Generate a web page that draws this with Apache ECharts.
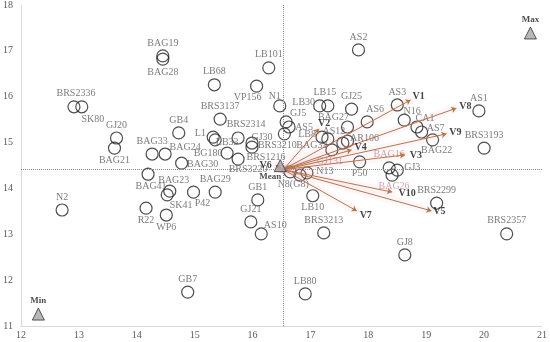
<!DOCTYPE html>
<html>
<head>
<meta charset="utf-8">
<script src="https://cdn.jsdelivr.net/npm/echarts@6/dist/echarts.min.js"></script>
<style>
html,body{margin:0;padding:0;background:#fff;}
#chart{width:550px;height:342px;}
</style>
</head>
<body>
<div id="chart"></div>
<script>
// ---------- data ----------
const xTicks = [12, 13, 14, 15, 16, 17, 18, 19, 20, 21];
const yTicks = [11, 12, 13, 14, 15, 16, 17, 18];

const names = ['N2','BRS2336','SK80','GJ20','BAG21','GB7','BAG19','BAG28','GB4','BAG33',
  'BAG24','BAG30','BAG41','BAG23','SK41','P42','BAG29','R22','WP6','GB1',
  'GJ21','AS10','LB80','BRS3213','LB10','LB101','LB68','VP156','N1','AS2',
  'LB30','LB15','GJ25','AS6','BAG27','GJ5','AS5','BRS3210','LB8','AS12',
  'GJ131','BAG32','AR106','P50','N8(G8)','','N13','BAG16','GJ3','BAG26',
  'AS3','N16','CA1','AS7','BAG22','AS1','BRS3193','BRS2299','BRS2357','GJ8',
  'BRS3137','BRS2314','L1','LB33','BG180','GJ30','BRS1216','BRS3220'];
const xs = [12.71,12.915,13.05,13.65,13.615,14.88,14.45,14.45,14.725,14.265,
  14.49,14.775,14.195,14.57,14.525,14.98,15.355,14.16,14.51,16.09,
  15.97,16.15,16.91,17.23,17.04,16.28,15.34,16.07,16.47,17.83,
  17.16,17.30,17.71,17.98,17.64,16.58,16.63,16.55,17.20,17.30,
  17.37,17.56,17.64,17.85,16.65,16.82,16.94,18.36,18.50,18.41,
  18.50,18.62,18.84,18.92,19.11,19.91,20.00,19.18,20.39,18.63,
  15.44,15.75,15.32,15.355,15.56,15.99,15.99,15.75];
const ys = [13.53,15.78,15.78,15.10,14.88,11.74,16.89,16.82,15.21,14.75,
  14.75,14.55,14.31,13.94,13.86,13.92,13.92,13.57,13.42,13.75,
  13.27,13.01,11.70,13.03,13.84,16.63,16.26,16.23,15.80,17.02,
  15.80,15.80,15.73,15.45,15.34,15.45,15.34,15.19,15.12,15.08,
  14.84,14.99,15.03,14.58,14.36,14.29,14.34,14.45,14.40,14.29,
  15.82,15.49,15.34,15.23,15.06,15.69,14.88,13.68,13.01,12.55,
  15.51,15.10,15.12,15.06,14.77,14.99,14.90,14.64];

const refNames = ['Max', 'Min', 'Mean'];
const refX = [20.80, 12.30, 16.53];
const refY = [17.39, 11.26, 14.41];

const vecNames = ['V1','V2','V3','V4','V5','V6','V7','V8','V9','V10'];
const vecX = [18.73, 17.15, 18.63, 17.71, 19.09, 16.40, 17.80, 19.52, 19.35, 18.41];
const vecY = [15.93, 15.30, 14.73, 14.84, 13.51, 14.51, 13.51, 15.75, 15.19, 13.92];

// ---------- layout (label placement, not data) ----------
const T = [0, -13], B = [0, 12];
const labelOff = {
  'BRS2336':[2,-13],'SK80':[11,13],'BAG21':B,'BAG28':[0,13],'BAG24':[20,-7],'BAG30':[21,1],
  'BAG41':[3,12],'BAG23':[4,-11],'SK41':[14,11],'P42':[9,11],'R22':B,'WP6':B,'AS10':[14,-8],
  'LB10':B,'VP156':[-9,11],'N1':[-5,-10],'LB30':[-16,-4],'LB15':[-3,-14],'AS6':[8,-13],
  'BAG27':[-14,-10],'GJ5':[12,-9],'AS5':[15,0],'BRS3210':[-7,12],'LB8':[-15,-3],'AS12':[6,-8],
  'GJ131':[-2,11],'BAG32':[-31,2],'AR106':[17,-3],'P50':B,'N8(G8)':[3,12],'N13':[18,-1],
  'GJ3':[15,-3],'BAG26':[2,11],'N16':[8,-9],'CA1':[8,-9],'AS7':[14,-4],'BAG22':[4,11],
  'BRS2314':[8,-14],'L1':[-13,-4],'LB33':[12,3],'BG180':[-19,0],'GJ30':[10,-6],
  'BRS1216':[14,10],'BRS3220':[10,10]
};
const pinkLabels = {'BAG16':1,'GJ131':1,'BAG26':1};
const vecOff = {'V1':[8,-4],'V2':[5,-5],'V3':[11,0],'V4':[9,-2],'V5':[8,1],'V6':[-10,0],
  'V7':[9,5],'V8':[9,-2],'V9':[9,-1],'V10':[15,1]};
const refOff = {'Max':[0,-13],'Min':[0,-13],'Mean':[-10,11]};

const FONT = 'Liberation Serif';
const chart = echarts.init(document.getElementById('chart'), null, {renderer:'canvas'});

const pointData = names.map((n, i) => ({
  value: [xs[i], ys[i]], name: n,
  label: { offset: labelOff[n] || T, color: pinkLabels[n] ? '#c98a98' : '#5a5a5a' }
}));

const refData = refNames.map((n, i) => ({
  value: [refX[i], refY[i]], name: n,
  label: { offset: refOff[n] },
  symbolOffset: n === 'Mean' ? [-3, -4] : [0, 0]
}));

const meanX = refX[2], meanY = refY[2];
const vecLines = vecNames.map((n, i) => ({ coords: [[meanX, meanY], [vecX[i], vecY[i]]] }));
const vecTips = vecNames.map((n, i) => ({ value: [vecX[i], vecY[i]], name: n, label: { offset: vecOff[n] } }));

const axisCommon = {
  axisLine: { show: true, onZero: false, lineStyle: { color: '#d9d9d9', width: 1 } },
  axisTick: { show: false },
  splitLine: { show: false },
  axisLabel: { color: '#595959', fontFamily: FONT, fontSize: 10 }
};

chart.setOption({
  animation: false,
  backgroundColor: '#ffffff',
  grid: { left: 17, right: 5, top: 5, bottom: 16, containLabel: false },
  xAxis: Object.assign({}, axisCommon, {
    type: 'value', min: xTicks[0], max: xTicks[xTicks.length - 1], interval: 1,
    axisLabel: Object.assign({}, axisCommon.axisLabel, { margin: 4 })
  }),
  yAxis: Object.assign({}, axisCommon, {
    type: 'value', min: yTicks[0], max: yTicks[yTicks.length - 1], interval: 1,
    axisLabel: Object.assign({}, axisCommon.axisLabel, { margin: 8 })
  }),
  series: [
    {
      type: 'scatter', z: 2,
      symbol: 'circle', symbolSize: 12,
      itemStyle: { color: 'rgba(0,0,0,0)', borderColor: '#222', borderWidth: 1.2 },
      label: { show: true, position: 'inside', formatter: '{b}', fontFamily: FONT, fontSize: 10, color: '#5a5a5a' },
      data: pointData,
      markLine: {
        silent: true, symbol: 'none', animation: false,
        label: { show: false },
        lineStyle: { type: 'dotted', color: '#8a8a8a', width: 1 },
        data: [{ xAxis: meanX }, { yAxis: meanY }]
      }
    },
    {
      type: 'lines', coordinateSystem: 'cartesian2d', z: 3, silent: true,
      symbol: 'none',
      lineStyle: { color: 'rgba(248,150,170,0.15)', width: 8, cap: 'round' },
      data: vecLines
    },
    {
      type: 'lines', coordinateSystem: 'cartesian2d', z: 4, silent: true,
      symbol: ['none', 'arrow'], symbolSize: 5,
      lineStyle: { color: '#b97444', width: 1, opacity: 1 },
      data: vecLines
    },
    {
      type: 'scatter', z: 5, symbolSize: 0,
      label: { show: true, position: 'inside', formatter: '{b}', fontFamily: FONT, fontSize: 10, fontWeight: 'bold', color: '#111' },
      data: vecTips
    },
    {
      type: 'scatter', z: 6,
      symbol: 'triangle', symbolSize: 12,
      itemStyle: { color: '#a6a6a6', borderColor: '#333', borderWidth: 1 },
      label: { show: true, position: 'inside', formatter: '{b}', fontFamily: FONT, fontSize: 9, fontWeight: 'bold', color: '#222' },
      data: refData
    }
  ]
});
</script>
</body>
</html>
